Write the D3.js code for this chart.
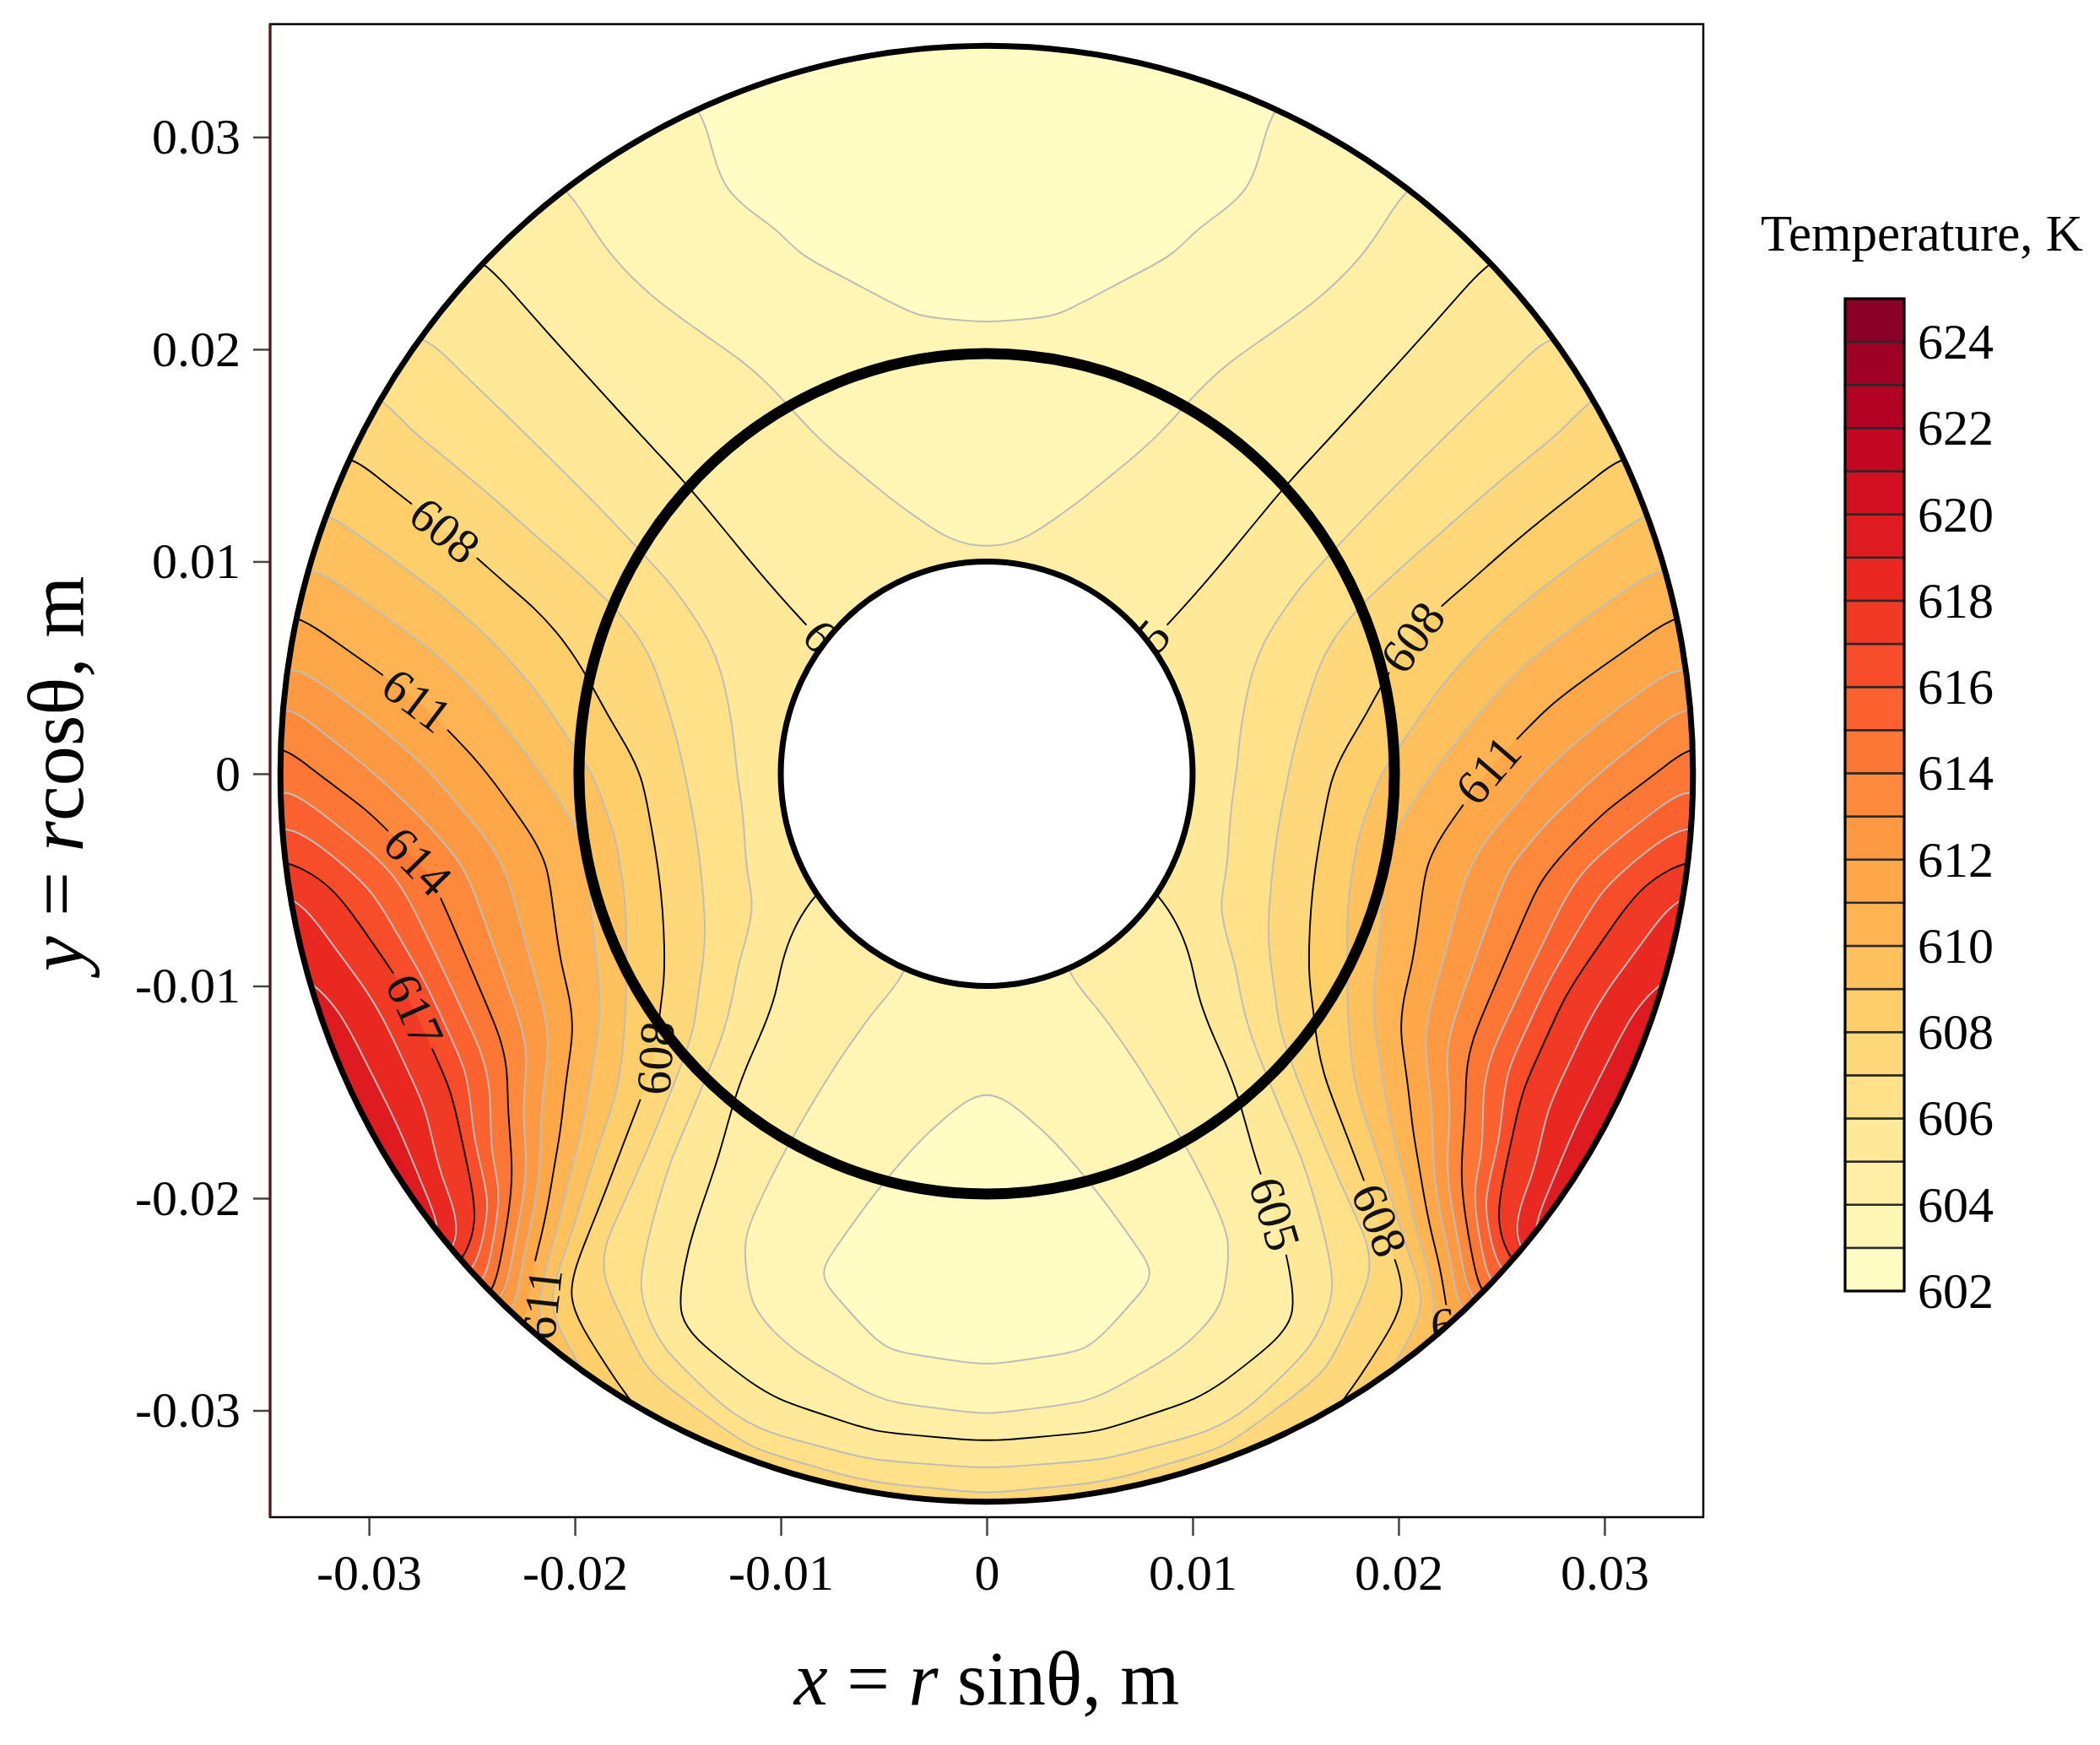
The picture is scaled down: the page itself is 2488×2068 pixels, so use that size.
<!DOCTYPE html>
<html>
<head>
<meta charset="utf-8">
<script src="https://cdn.jsdelivr.net/npm/d3@7"></script>
<style>
  body { margin: 0; background: #fff; }
  svg { display: block; }
</style>
</head>
<body>
<svg id="chart" width="2488" height="2068"></svg>
<script>
// rays of the polar grid: angle measured from the top, clockwise (deg)
const thetaDeg = [0, 10, 20, 30, 40, 50, 60, 70, 80, 90, 100, 110, 120, 130, 140, 150, 160, 170, 180];
// radial nodes (m), inner wall to outer wall
const radii = [0.010, 0.0125, 0.015, 0.0175, 0.020, 0.0225, 0.025, 0.0275, 0.030, 0.0325, 0.0345];
// temperature (K) along each ray (field is mirror symmetric about x = 0)
const tempRays = [
  [604.05, 603.80, 603.55, 603.30, 603.08, 602.92, 602.80, 602.70, 602.62, 602.55, 602.50],
  [604.10, 603.90, 603.60, 603.33, 603.10, 602.97, 602.88, 602.80, 602.74, 602.70, 602.67],
  [604.20, 604.08, 603.93, 603.70, 603.45, 603.22, 603.03, 602.92, 602.86, 602.84, 602.83],
  [604.35, 604.28, 604.20, 604.12, 604.05, 603.95, 603.75, 603.45, 603.15, 603.20, 603.30],
  [604.60, 604.55, 604.50, 604.47, 604.45, 604.43, 604.42, 604.41, 604.40, 604.40, 604.40],
  [604.93, 604.97, 605.05, 605.15, 605.25, 605.30, 605.35, 605.40, 605.45, 605.50, 605.55],
  [605.25, 605.50, 605.75, 606.00, 606.20, 606.40, 606.58, 606.75, 606.90, 607.02, 607.20],
  [605.50, 605.75, 606.30, 607.00, 607.50, 607.85, 608.15, 608.50, 608.80, 609.05, 609.20],
  [605.65, 606.00, 606.85, 607.50, 608.30, 609.10, 609.80, 610.40, 610.85, 611.30, 611.70],
  [605.70, 606.05, 607.15, 608.35, 609.35, 610.35, 611.30, 612.20, 613.10, 614.00, 614.80],
  [605.65, 606.10, 607.30, 608.50, 610.20, 611.35, 612.60, 614.05, 615.70, 617.30, 618.30],
  [605.50, 606.00, 607.15, 608.35, 609.80, 611.15, 612.80, 614.60, 617.00, 618.60, 619.60],
  [605.15, 605.85, 606.70, 607.80, 608.90, 610.60, 612.40, 614.65, 617.00, 618.70, 619.80],
  [604.75, 604.90, 605.60, 606.60, 607.60, 608.60, 609.70, 611.25, 614.00, 617.30, 619.20],
  [604.45, 604.55, 604.68, 604.87, 605.20, 605.70, 606.20, 606.70, 607.25, 608.30, 610.50],
  [604.20, 604.15, 604.12, 604.10, 604.10, 604.12, 604.20, 604.45, 605.00, 606.90, 608.05],
  [603.95, 603.75, 603.55, 603.38, 603.22, 603.10, 603.02, 603.60, 604.45, 605.60, 607.80],
  [603.75, 603.45, 603.20, 602.98, 602.80, 602.72, 602.75, 602.95, 604.00, 605.70, 607.60],
  [603.70, 603.30, 602.95, 602.75, 602.65, 602.60, 602.65, 602.85, 603.85, 605.80, 607.50]
];

// tube walls (m)
const innerR = 0.010;
const pipeR = 0.0198;
const outerR = 0.0343;

// contour levels, every 1 K; every third one is drawn black and labelled
const colorMin = 602;
const colorMax = 625;
const levels = d3.range(603, 625);
const majorStart = 605;
const colorTicks = d3.range(602, 625, 2);
const xTicks = [-0.03, -0.02, -0.01, 0, 0.01, 0.02, 0.03];
const yTicks = [-0.03, -0.02, -0.01, 0, 0.01, 0.02, 0.03];

// where the contour labels sit (m); unsnapped ones are partly hidden by a wall
const labelSpots = [
  { level: 608, x: -0.0268, y: 0.0109, snap: true },
  { level: 611, x: -0.0271, y: 0.0042, snap: true },
  { level: 614, x: -0.0276, y: -0.0041, snap: true },
  { level: 617, x: -0.0279, y: -0.0112, snap: true },
  { level: 608, x: -0.0161, y: -0.0134, snap: true },
  { level: 605, x: -0.0073, y: 0.0056, snap: false },
  { level: 611, x: -0.0216, y: -0.0250, snap: false },
  { level: 605, x: 0.0073, y: 0.0056, snap: false },
  { level: 608, x: 0.0210, y: 0.0062, snap: true },
  { level: 611, x: 0.0243, y: 0.0002, snap: true },
  { level: 605, x: 0.0145, y: -0.0206, snap: true },
  { level: 608, x: 0.0194, y: -0.0209, snap: true },
  { level: 611, x: 0.0233, y: -0.0259, snap: false }
];

const serif = '"Liberation Serif", "Times New Roman", Times, serif';
const svg = d3.select('#chart').attr('font-family', serif);

const x = d3.scaleLinear().domain([-0.0348, 0.0348]).range([320, 2018]);
const y = d3.scaleLinear().domain([-0.03503, 0.03532]).range([1798, 28.6]);
const cx = x(0), cy = y(0);
const rx = r => x(r) - x(0);
const ry = r => y(0) - y(r);
const bandColor = t => d3.interpolateYlOrRd((t - colorMin + 0.5) / (colorMax - colorMin));

// grid for d3.contours, padded past 0 and 180 deg with the mirrored rays
const gridTheta = d3.range(-30, 211, 10);
const rayAt = th => {
  let a = Math.abs(th);
  if (a > 180) a = 360 - a;
  return tempRays[thetaDeg.indexOf(a)];
};
const nC = gridTheta.length, nR = radii.length;
const values = new Array(nC * nR);
gridTheta.forEach((th, i) => rayAt(th).forEach((v, j) => { values[i + j * nC] = v; }));

const contours = d3.contours().size([nC, nR]).thresholds(levels)(values);

// contour grid coords -> angle / radius; the grid border is pushed well out of sight
const thetaIdx = d3.scaleLinear().domain([0.5, nC - 0.5]).range([gridTheta[0], gridTheta[nC - 1]]);
const radiusIdx = d3.scaleLinear()
  .domain([0].concat(radii.map((_, j) => j + 0.5), [nR]))
  .range([0.006].concat(radii, [0.040]));

const project = (p, side) => {
  const th = thetaIdx(p[0]) * Math.PI / 180;
  const r = radiusIdx(p[1]);
  return [x(side * r * Math.sin(th)), y(r * Math.cos(th))];
};

// even spacing along a line so the B-spline smooths the coarse grid evenly
const STEP = 40;
const resample = (pts, closed) => {
  const src = closed ? pts.concat([pts[0]]) : pts;
  const out = [src[0]];
  let carry = 0;
  for (let i = 1; i < src.length; i++) {
    const A = src[i - 1], B = src[i];
    const seg = Math.hypot(B[0] - A[0], B[1] - A[1]);
    if (seg === 0) continue;
    let t = STEP - carry;
    while (t <= seg) {
      out.push([A[0] + (B[0] - A[0]) * t / seg, A[1] + (B[1] - A[1]) * t / seg]);
      t += STEP;
    }
    carry = seg - (t - STEP);
  }
  if (closed) {
    if (out.length > 2) out.pop();
  } else {
    out.push(src[src.length - 1]);
  }
  return out;
};

const closedCurve = d3.line().curve(d3.curveBasisClosed);
const openCurve = d3.line().curve(d3.curveBasis);

const bandPath = (geom, side) => geom.coordinates
  .map(poly => poly.map(ring => closedCurve(resample(ring.slice(0, -1).map(p => project(p, side)), true))).join(''))
  .join('');

// split the filled rings into isolines; each keeps one border point at either end
const onEdge = p => p[0] <= 0 || p[0] >= nC || p[1] <= 0 || p[1] >= nR;
const isolines = geom => {
  const out = [];
  geom.coordinates.forEach(poly => poly.forEach(ring => {
    const pts = ring.slice(0, -1);
    const k = pts.findIndex(onEdge);
    if (k < 0) { out.push({ closed: true, pts }); return; }
    const rot = pts.slice(k).concat(pts.slice(0, k), [pts[k]]);
    let run = null;
    rot.forEach(p => {
      if (onEdge(p)) {
        if (run) {
          run.push(p);
          if (run.length > 2) out.push({ closed: false, pts: run });
        }
        run = [p];
      } else run.push(p);
    });
  }));
  return out;
};
const lineSets = contours.map(c => ({ level: c.value, lines: isolines(c) }));
const isMajor = t => (t - majorStart) % 3 === 0;

const defs = svg.append('defs');
const halfArc = side => `M${cx},${cy - ry(outerR) - 10}A${rx(outerR) + 10},${ry(outerR) + 10} 0 0 ${side > 0 ? 1 : 0} ${cx},${cy + ry(outerR) + 10}Z`;
[1, -1].forEach(side => {
  defs.append('clipPath').attr('id', `half${side > 0 ? 'R' : 'L'}`)
    .append('path').attr('d', halfArc(side));
});
defs.append('clipPath').attr('id', 'disk')
  .append('ellipse').attr('cx', cx).attr('cy', cy).attr('rx', rx(outerR)).attr('ry', ry(outerR));

// base colour of the annulus
svg.append('ellipse')
  .attr('cx', cx).attr('cy', cy).attr('rx', rx(outerR)).attr('ry', ry(outerR))
  .attr('fill', bandColor(colorMin));

const field = svg.append('g').attr('clip-path', 'url(#disk)');
[1, -1].forEach(side => {
  field.append('g')
    .attr('clip-path', `url(#half${side > 0 ? 'R' : 'L'})`)
    .selectAll('path')
    .data(contours.filter(c => c.coordinates.length))
    .join('path')
    .attr('d', c => bandPath(c, side))
    .attr('fill', c => bandColor(c.value));
});

// label geometry: snap each spot to its contour and follow its direction
const fontLabel = 58;
const labels = labelSpots.map(s => {
  const side = s.x < 0 ? -1 : 1;
  const P = [x(s.x), y(s.y)];
  const set = lineSets.find(l => l.level === s.level);
  let best = { d: Infinity, p: P, a: 0 };
  set.lines.forEach(line => {
    const pts = line.pts.map(p => project(p, side));
    if (line.closed) pts.push(pts[0]);
    for (let i = 0; i < pts.length - 1; i++) {
      const A = pts[i], B = pts[i + 1];
      const dx = B[0] - A[0], dy = B[1] - A[1];
      const L2 = dx * dx + dy * dy || 1;
      let u = ((P[0] - A[0]) * dx + (P[1] - A[1]) * dy) / L2;
      u = Math.max(0, Math.min(1, u));
      const Q = [A[0] + u * dx, A[1] + u * dy];
      const d = Math.hypot(P[0] - Q[0], P[1] - Q[1]);
      if (d < best.d) {
        let a = Math.atan2(dy, dx) * 180 / Math.PI;
        if (a > 90) a -= 180;
        if (a < -90) a += 180;
        best = { d, p: Q, a };
      }
    }
  });
  const at = s.snap ? best.p : P;
  return { text: String(s.level), px: at[0], py: at[1], angle: best.a };
});

const mask = defs.append('mask').attr('id', 'gaps')
  .attr('maskUnits', 'userSpaceOnUse').attr('x', 0).attr('y', 0).attr('width', 2488).attr('height', 2068);
mask.append('rect').attr('width', 2488).attr('height', 2068).attr('fill', '#fff');
mask.selectAll('rect.gap').data(labels).join('rect')
  .attr('class', 'gap')
  .attr('x', -fontLabel * 0.86).attr('y', -fontLabel * 0.4)
  .attr('width', fontLabel * 1.72).attr('height', fontLabel * 0.8)
  .attr('transform', d => `translate(${d.px},${d.py}) rotate(${d.angle})`)
  .attr('fill', '#000');

const lineGroup = svg.append('g').attr('clip-path', 'url(#disk)').attr('fill', 'none');
const drawLines = (g, major) => {
  [1, -1].forEach(side => {
    const sub = g.append('g').attr('clip-path', `url(#half${side > 0 ? 'R' : 'L'})`);
    lineSets.filter(s => isMajor(s.level) === major).forEach(s => {
      s.lines.forEach(line => {
        const pts = resample(line.pts.map(p => project(p, side)), line.closed);
        sub.append('path')
          .attr('d', line.closed ? closedCurve(pts) : openCurve(pts))
          .attr('stroke', major ? '#000' : '#c0bdb7')
          .attr('stroke-width', major ? 1.9 : 2);
      });
    });
  });
};
drawLines(lineGroup.append('g'), false);
drawLines(lineGroup.append('g').attr('mask', 'url(#gaps)'), true);

svg.append('g').attr('clip-path', 'url(#disk)')
  .selectAll('text').data(labels).join('text')
  .attr('transform', d => `translate(${d.px},${d.py}) rotate(${d.angle})`)
  .attr('text-anchor', 'middle')
  .attr('dominant-baseline', 'central')
  .attr('font-size', fontLabel)
  .attr('fill', '#111')
  .text(d => d.text);

// walls
svg.append('ellipse')
  .attr('cx', cx).attr('cy', cy).attr('rx', rx(innerR)).attr('ry', ry(innerR))
  .attr('fill', '#fff').attr('stroke', '#000').attr('stroke-width', 7);
svg.append('ellipse')
  .attr('cx', cx).attr('cy', cy).attr('rx', rx(pipeR)).attr('ry', ry(pipeR))
  .attr('fill', 'none').attr('stroke', '#000').attr('stroke-width', 13);
svg.append('ellipse')
  .attr('cx', cx).attr('cy', cy).attr('rx', rx(outerR)).attr('ry', ry(outerR))
  .attr('fill', 'none').attr('stroke', '#000').attr('stroke-width', 7);

// axes
const fmt = d => d === 0 ? '0' : String(+d.toFixed(2));
svg.append('g')
  .attr('transform', `translate(0,${y.range()[0]})`)
  .call(d3.axisBottom(x).tickValues(xTicks).tickSize(22).tickSizeOuter(0).tickPadding(21).tickFormat(fmt))
  .attr('font-family', serif).attr('font-size', 60)
  .call(g => g.select('.domain').remove())
  .call(g => g.selectAll('.tick line').attr('stroke', '#444').attr('stroke-width', 2.5))
  .call(g => g.selectAll('.tick text').attr('fill', '#000'));

svg.append('g')
  .attr('transform', `translate(${x.range()[0]},0)`)
  .call(d3.axisLeft(y).tickValues(yTicks).tickSize(20).tickSizeOuter(0).tickPadding(15).tickFormat(fmt))
  .attr('font-family', serif).attr('font-size', 60)
  .call(g => g.select('.domain').remove())
  .call(g => g.selectAll('.tick line').attr('stroke', '#444').attr('stroke-width', 2.5))
  .call(g => g.selectAll('.tick text').attr('fill', '#000'));

// frame
const [x0, x1] = x.range();
const [yb, yt] = y.range();
svg.append('rect')
  .attr('x', x0).attr('y', yt).attr('width', x1 - x0).attr('height', yb - yt)
  .attr('fill', 'none').attr('stroke', '#000').attr('stroke-width', 2.5);
svg.append('line')
  .attr('x1', x0).attr('x2', x0).attr('y1', yt).attr('y2', yb)
  .attr('stroke', '#5a1418').attr('stroke-width', 3);

// axis titles
const xt = svg.append('text')
  .attr('x', cx).attr('y', 2020)
  .attr('text-anchor', 'middle').attr('font-size', 90);
xt.append('tspan').attr('font-style', 'italic').text('x');
xt.append('tspan').text(' = ');
xt.append('tspan').attr('font-style', 'italic').text('r');
xt.append('tspan').text(' sinθ, m');

const yt2 = svg.append('text')
  .attr('transform', `translate(98,${cy}) rotate(-90)`)
  .attr('text-anchor', 'middle').attr('font-size', 94);
yt2.append('tspan').attr('font-style', 'italic').text('y');
yt2.append('tspan').text(' = ');
yt2.append('tspan').attr('font-style', 'italic').text('r');
yt2.append('tspan').text('cosθ, m');

// colour bar
const cb = d3.scaleLinear().domain([colorMin, colorMax]).range([1530, 354]);
const cbX = 2186, cbW = 70;
const legend = svg.append('g');
legend.selectAll('rect.band').data(d3.range(colorMin, colorMax)).join('rect')
  .attr('class', 'band')
  .attr('x', cbX).attr('y', d => cb(d + 1)).attr('width', cbW).attr('height', d => cb(d) - cb(d + 1))
  .attr('fill', d => bandColor(d))
  .attr('stroke', '#2a2a2a').attr('stroke-width', 2.5);
legend.append('rect')
  .attr('x', cbX).attr('y', cb(colorMax)).attr('width', cbW).attr('height', cb(colorMin) - cb(colorMax))
  .attr('fill', 'none').attr('stroke', '#000').attr('stroke-width', 3);
legend.selectAll('text.tick').data(colorTicks).join('text')
  .attr('class', 'tick')
  .attr('x', cbX + cbW + 16).attr('y', d => cb(d))
  .attr('dominant-baseline', 'central')
  .attr('font-size', 60)
  .text(d => d);
legend.append('text')
  .attr('x', 2277).attr('y', 297)
  .attr('text-anchor', 'middle').attr('font-size', 61)
  .text('Temperature, K');
</script>
</body>
</html>
